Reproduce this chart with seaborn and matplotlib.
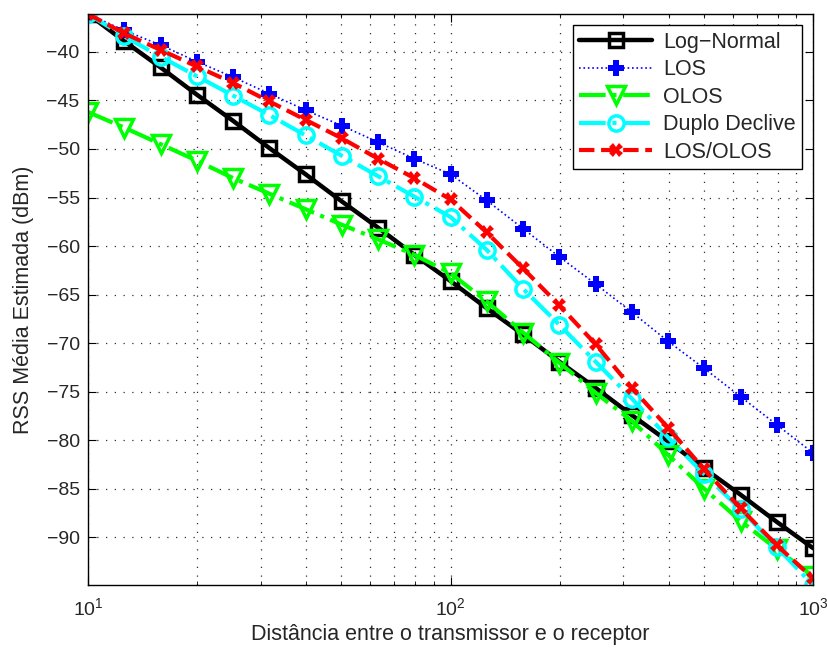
import numpy as np
import pandas as pd
import matplotlib
matplotlib.use("Agg")
import matplotlib.pyplot as plt
import seaborn as sns
from matplotlib.ticker import LogLocator, FixedLocator

# ---------------- data ----------------
distance = [10.0, 12.59, 15.85, 19.95, 25.12, 31.62, 39.81, 50.12, 63.10, 79.43,
            100.0, 125.9, 158.5, 199.5, 251.2, 316.2, 398.1, 501.2, 631.0, 794.3, 1000.0]

log_normal = [-36.1, -38.9, -41.6, -44.4, -47.1, -49.9, -52.6, -55.4, -58.1, -60.9,
              -63.6, -66.4, -69.1, -71.9, -74.6, -77.4, -80.1, -82.9, -85.6, -88.4, -91.1]
los = [-36.1, -37.8, -39.3, -41.0, -42.6, -44.3, -46.0, -47.6, -49.3, -51.0,
       -52.6, -55.3, -58.2, -61.1, -63.9, -66.8, -69.8, -72.6, -75.5, -78.4, -81.3]
olos = [-46.2, -47.8, -49.5, -51.2, -53.0, -54.6, -56.2, -57.8, -59.3, -60.9,
        -62.8, -65.7, -68.9, -72.0, -75.1, -78.0, -81.5, -85.0, -88.3, -91.2, -94.0]
duplo = [-36.1, -38.4, -40.5, -42.5, -44.5, -46.5, -48.6, -50.7, -52.8, -54.9,
         -57.0, -60.4, -64.4, -68.1, -71.9, -75.7, -79.7, -83.5, -87.1, -91.0, -94.9]
los_olos = [-36.1, -38.1, -39.8, -41.5, -43.2, -45.1, -47.0, -48.9, -51.0, -53.0,
            -55.2, -58.6, -62.3, -66.1, -70.1, -74.6, -78.7, -83.0, -87.0, -90.8, -94.2]

series_names = ["Log\u2212Normal", "LOS", "OLOS", "Duplo Declive", "LOS/OLOS"]
series_values = [log_normal, los, olos, duplo, los_olos]

y_ticks = [-90, -85, -80, -75, -70, -65, -60, -55, -50, -45, -40]
xlabel = "Dist\u00e2ncia entre o transmissor e o receptor"
ylabel = "RSS M\u00e9dia Estimada (dBm)"

# ---------------- style ----------------
sns.set_theme(style="ticks")
plt.rcParams["font.family"] = ["Liberation Sans", "DejaVu Sans"]
plt.rcParams["axes.unicode_minus"] = True
plt.rcParams["xtick.direction"] = "in"
plt.rcParams["ytick.direction"] = "in"

styles = [
    dict(color="black", linestyle="-", linewidth=3.2, marker="s", markersize=10,
         markerfacecolor="none", markeredgecolor="black", markeredgewidth=2.5),
    dict(color="#0000ff", linestyle=":", linewidth=1.2, marker="P", markersize=11,
         markeredgewidth=0, markeredgecolor="#0000ff", markerfacecolor="#0000ff"),
    dict(color="#00ff00", linestyle="-.", linewidth=3, marker="v", markersize=13,
         markerfacecolor="none", markeredgecolor="#00ff00", markeredgewidth=2.5),
    dict(color="#00ffff", linestyle="-.", linewidth=3, marker="o", markersize=11,
         markerfacecolor="none", markeredgecolor="#00ffff", markeredgewidth=2.5),
    dict(color="#ff0000", linestyle="--", linewidth=3, marker="X", markersize=10,
         markeredgewidth=0, markeredgecolor="#ff0000", markerfacecolor="#ff0000"),
]

fig = plt.figure(figsize=(8.28, 6.5), dpi=100)
ax = fig.add_axes([0.1063, 0.10, 0.8756, 0.8785])

for name, vals, st in zip(series_names, series_values, styles):
    df = pd.DataFrame({"d": distance, "rss": vals})
    sns.lineplot(data=df, x="d", y="rss", ax=ax, label=name, sort=False, **st)

ax.set_xscale("log")
ax.set_xlim(10, 1000)
ax.set_ylim(-94.9, -36.1)
ax.yaxis.set_major_locator(FixedLocator(y_ticks))
ax.xaxis.set_major_locator(LogLocator(base=10, numticks=10))
ax.xaxis.set_minor_locator(LogLocator(base=10, subs=np.arange(2, 10), numticks=20))

ax.grid(True, which="major", axis="both", linestyle=(0, (1, 6)), color="#303030", linewidth=0.9)
ax.grid(True, which="minor", axis="x", linestyle=(0, (1, 6)), color="#303030", linewidth=0.9)

ax.tick_params(which="both", top=True, right=True, labelsize=14, color="black")
ax.tick_params(which="major", length=6, width=0.8, pad=6)
ax.tick_params(which="minor", length=3, width=0.6)
ax.tick_params(axis="x", which="major", pad=9)
for s in ax.spines.values():
    s.set_color("black")
    s.set_linewidth(1.0)

ax.set_xlabel(xlabel, fontsize=15.5, labelpad=3)
ax.set_ylabel(ylabel, fontsize=15.5, labelpad=9)

leg = ax.legend(loc="upper right", fontsize=15.5, frameon=True, fancybox=False,
                edgecolor="black", framealpha=1, handlelength=3.4, borderpad=0.3,
                labelspacing=0.3, handletextpad=0.5, borderaxespad=0,
                bbox_to_anchor=(0.985, 0.98))
leg.get_frame().set_linewidth(1.0)

fig.savefig("out.png", dpi=100)
